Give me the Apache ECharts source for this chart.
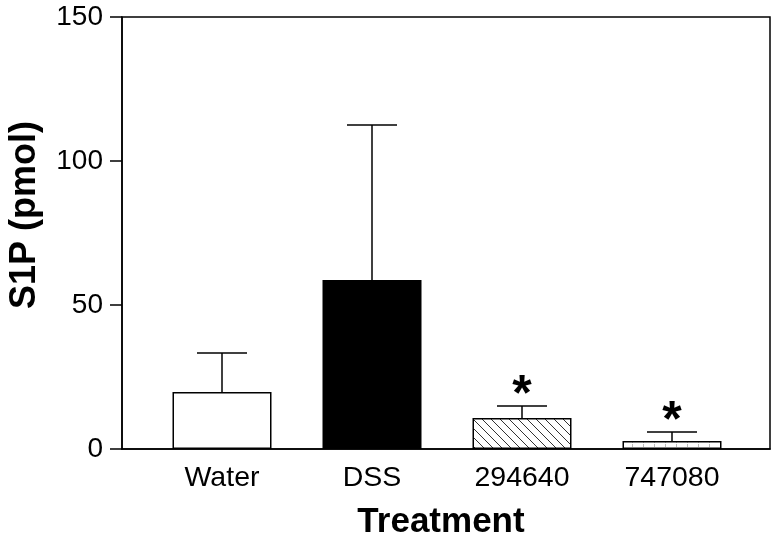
<!DOCTYPE html>
<html>
<head>
<meta charset="utf-8">
<script src="https://cdn.jsdelivr.net/npm/echarts@6/dist/echarts.min.js"></script>
<style>html,body{margin:0;padding:0;background:#fff}#c{width:775px;height:541px}</style>
</head>
<body>
<div id="c"></div>
<script>
var categories = ['Water', 'DSS', '294640', '747080'];
var means = [19.8, 58.7, 10.8, 2.8];
var errors = [13.5, 53.8, 4.1, 3.1];
var stars = ['', '', '*', '*'];
var yTicks = [0, 50, 100, 150];

function hatchPattern() {
  var c = document.createElement('canvas');
  c.width = 9; c.height = 9;
  var g = c.getContext('2d');
  g.fillStyle = '#fff'; g.fillRect(0, 0, 9, 9);
  g.strokeStyle = '#333'; g.lineWidth = 1;
  g.beginPath();
  g.moveTo(-1, -1); g.lineTo(10, 10);
  g.moveTo(-1, 8); g.lineTo(1, 10);
  g.moveTo(8, -1); g.lineTo(10, 1);
  g.stroke();
  return c;
}
function vlinePattern() {
  var c = document.createElement('canvas');
  c.width = 11; c.height = 4;
  var g = c.getContext('2d');
  g.fillStyle = '#fff'; g.fillRect(0, 0, 11, 4);
  g.fillStyle = '#bbb'; g.fillRect(5, 0, 1, 3);
  return c;
}
var fills = ['#ffffff', '#000000', {image: hatchPattern(), repeat: 'repeat'}, {image: vlinePattern(), repeat: 'repeat'}];

var chart = echarts.init(document.getElementById('c'));
var font = 'Liberation Sans, Arial, sans-serif';
chart.setOption({
  animation: false,
  backgroundColor: '#fff',
  grid: [
    {left: 122, top: 17, width: 648, height: 432, show: true, borderColor: '#000', borderWidth: 1.5, backgroundColor: 'transparent'},
    {left: 147, top: 17, width: 600, height: 432}
  ],
  xAxis: [
    {gridIndex: 0, type: 'value', min: 0, max: 1, axisLine: {show: true, lineStyle: {color: '#000', width: 1.5}}, axisTick: {show: false}, axisLabel: {show: false}, splitLine: {show: false}},
    {gridIndex: 1, type: 'category', data: categories, boundaryGap: true, axisLine: {show: false}, axisTick: {show: false}, splitLine: {show: false},
      axisLabel: {margin: 15, fontSize: 28.5, color: '#000', fontFamily: font}}
  ],
  yAxis: [
    {gridIndex: 0, type: 'value', min: yTicks[0], max: yTicks[yTicks.length - 1], interval: 50,
      axisLine: {show: true, lineStyle: {color: '#000', width: 1.5}},
      axisTick: {show: true, inside: false, length: 12, lineStyle: {color: '#000', width: 1.5}},
      axisLabel: {margin: 19, fontSize: 28, color: '#000', fontFamily: font},
      splitLine: {show: false}},
    {gridIndex: 1, type: 'value', min: yTicks[0], max: yTicks[yTicks.length - 1], show: false}
  ],
  graphic: [
    {type: 'text', x: 441, y: 522, style: {text: 'Treatment', fontSize: 35, fontWeight: 'bold', fontFamily: font, fill: '#000', textAlign: 'center', textVerticalAlign: 'middle'}},
    {type: 'text', x: 25, y: 215, rotation: Math.PI / 2, style: {text: 'S1P (pmol)', fontSize: 36, fontWeight: 'bold', fontFamily: font, fill: '#000', textAlign: 'center', textVerticalAlign: 'middle'}}
  ],
  series: [
    {type: 'bar', xAxisIndex: 1, yAxisIndex: 1, barWidth: 99,
      data: means.map(function (v, i) { return {value: v, itemStyle: {color: fills[i], borderColor: '#000', borderWidth: 1.5}}; })},
    {type: 'custom', xAxisIndex: 1, yAxisIndex: 1, z: 5,
      data: means.map(function (v, i) { return [i, v, v + errors[i]]; }),
      renderItem: function (params, api) {
        var i = api.value(0);
        var p0 = api.coord([i, api.value(1)]);
        var p1 = api.coord([i, api.value(2)]);
        var half = 25;
        var children = [
          {type: 'line', shape: {x1: p0[0], y1: p0[1], x2: p1[0], y2: p1[1]}, style: {stroke: '#000', lineWidth: 1.5}},
          {type: 'line', shape: {x1: p1[0] - half, y1: p1[1], x2: p1[0] + half, y2: p1[1]}, style: {stroke: '#000', lineWidth: 1.5}}
        ];
        if (stars[i]) {
          children.push({type: 'text', x: p1[0], y: p1[1] - 10, style: {text: stars[i], fontSize: 50, fontWeight: 'bold', fontFamily: font, fill: '#000', textAlign: 'center', textVerticalAlign: 'middle'}});
        }
        return {type: 'group', children: children};
      }}
  ]
});
</script>
</body>
</html>
